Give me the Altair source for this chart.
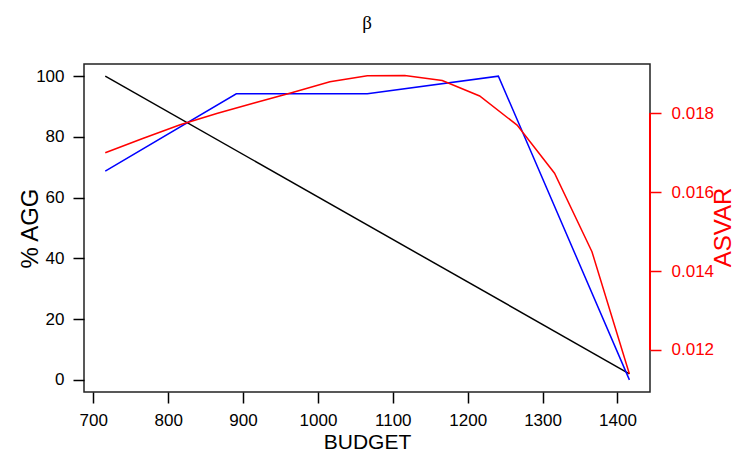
import altair as alt
import pandas as pd

# ---- data ----
budget_red = [716, 766, 816, 866, 916, 966, 1016, 1066, 1116, 1166, 1216, 1266, 1316, 1366, 1416]
asvar = [0.01700, 0.01736, 0.01771, 0.01800, 0.01827, 0.01853, 0.01880, 0.01895,
         0.01896, 0.01883, 0.01844, 0.01770, 0.01648, 0.01449, 0.01139]

budget_blue = [716, 891, 1066, 1241, 1416]
agg_blue = [68.7, 94.2, 94.2, 100, 0]

budget_black = [716, 1416]
agg_black = [100, 2]

x_ticks = [700, 800, 900, 1000, 1100, 1200, 1300, 1400]
y_left_ticks = [0, 20, 40, 60, 80, 100]
y_right_ticks = [0.012, 0.014, 0.016, 0.018]

RED = "#ff0000"
BLUE = "#0000ff"
FONT = "Liberation Sans"

W, H = 566, 328

left_df = pd.DataFrame({
    "budget": budget_black + budget_blue,
    "agg": agg_black + agg_blue,
    "series": ["black"] * len(budget_black) + ["blue"] * len(budget_blue),
})
red_df = pd.DataFrame({"budget": budget_red, "asvar": asvar})

x_enc = alt.X(
    "budget:Q",
    scale=alt.Scale(domain=[687.6, 1443.5], nice=False, zero=False),
    axis=alt.Axis(
        values=x_ticks, format="d", title="BUDGET", grid=False, domain=False,
        tickSize=11, tickWidth=1.5, tickColor="black",
        labelFontSize=17, labelFont=FONT, labelColor="black", labelPadding=9,
        titleFontSize=21, titleFont=FONT, titleFontWeight="normal", titleColor="black",
        titleBaseline="alphabetic", titleY=56,
    ),
)

left_axis = alt.Axis(
    values=y_left_ticks, title="% AGG", grid=False, domain=False,
    tickSize=11, tickWidth=1.5, tickColor="black",
    labelFontSize=17, labelFont=FONT, labelColor="black", labelPadding=9,
    titleFontSize=24, titleFont=FONT, titleFontWeight="normal", titleColor="black",
    titleAngle=270, titleBaseline="alphabetic", titleX=-47, titleY=164, titleAlign="center",
)

left = alt.Chart(left_df).mark_line(strokeWidth=1.5).encode(
    x=x_enc,
    y=alt.Y("agg:Q", scale=alt.Scale(domain=[-4, 104], nice=False, zero=False), axis=left_axis),
    color=alt.Color("series:N", scale=alt.Scale(domain=["black", "blue"], range=["black", BLUE]), legend=None),
)

right_axis = alt.Axis(
    values=y_right_ticks, format=".3f", title="ASVAR", orient="right", grid=False, domain=False,
    tickSize=11, tickWidth=1.5, tickColor=RED,
    labelFontSize=17, labelFont=FONT, labelColor=RED, labelPadding=10,
    titleFontSize=24, titleFont=FONT, titleFontWeight="normal", titleColor=RED,
    titleAngle=270, titleBaseline="alphabetic", titleX=80, titleY=163, titleAlign="center",
)
right_scale = alt.Scale(domain=[0.010935, 0.01925], nice=False, zero=False)

red_line = alt.Chart(red_df).mark_line(strokeWidth=1.5, color=RED).encode(
    x=x_enc,
    y=alt.Y("asvar:Q", scale=right_scale, axis=right_axis),
)

red_axis_line = alt.Chart(red_df).mark_rule(color=RED, strokeWidth=1.5).encode(
    x=alt.value(W),
    y=alt.datum(y_right_ticks[0], scale=right_scale, axis=right_axis),
    y2=alt.datum(y_right_ticks[-1]),
)

right = alt.layer(red_line, red_axis_line)

chart = alt.layer(left, right).resolve_scale(y="independent").properties(
    width=W,
    height=H,
    background="white",
    title=alt.TitleParams(
        text="β", font="Liberation Serif", fontSize=19, fontWeight="normal",
        color="black", anchor="middle", baseline="alphabetic", offset=16,
    ),
    autosize=alt.AutoSizeParams(type="none"),
    padding={"left": 76, "top": 56, "right": 85, "bottom": 61},
).configure_view(
    stroke="#222222", strokeWidth=1.5
)

chart.save("out.html", embed_options={"renderer": "svg", "actions": False})
